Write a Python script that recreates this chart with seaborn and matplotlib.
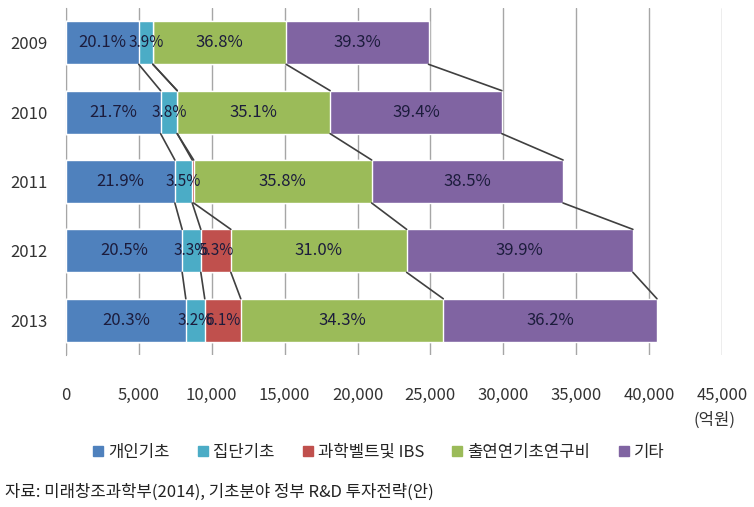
import matplotlib
matplotlib.use('Agg')
from matplotlib import pyplot as plt
from matplotlib.lines import Line2D
import seaborn as sns
import pandas as pd
import numpy as np

years = ['2009', '2010', '2011', '2012', '2013']
categories = ['개인기초', '집단기초', '과학벨트및 IBS', '출연연기초연구비', '기타']
colors = ['#4F81BD', '#4BACC6', '#C0504D', '#9BBB59', '#8064A2']

# amounts in 억원
individual = [4990, 6490, 7470, 7970, 8220]
group = [970, 1140, 1190, 1280, 1300]
sci_belt = [0, 0, 100, 2060, 2470]
institute = [9140, 10490, 12210, 12060, 13890]
other = [9770, 11780, 13130, 15520, 14660]

# labels as printed on the bars
pct_individual = ['20.1%', '21.7%', '21.9%', '20.5%', '20.3%']
pct_group = ['3.9%', '3.8%', '3.5%', '3.3%', '3.2%']
pct_sci_belt = ['', '', '', '5.3%', '6.1%']
pct_institute = ['36.8%', '35.1%', '35.8%', '31.0%', '34.3%']
pct_other = ['39.3%', '39.4%', '38.5%', '39.9%', '36.2%']

values = np.array([individual, group, sci_belt, institute, other], dtype=float)
labels = [pct_individual, pct_group, pct_sci_belt, pct_institute, pct_other]
cum = values.cumsum(axis=0)

sns.set_style('white')
plt.rcParams['font.family'] = ['Noto Sans CJK KR', 'DejaVu Sans']

fig = plt.figure(figsize=(7.54, 5.07), dpi=100)
ax = fig.add_axes([0.0875, 0.300, 0.870, 0.684])

bar_h = 0.62
# stacked: draw cumulative totals, largest first
for k in range(len(categories) - 1, -1, -1):
    df = pd.DataFrame({'year': years, 'value': cum[k]})
    sns.barplot(data=df, x='value', y='year', color=colors[k], width=bar_h,
                saturation=1, ax=ax, order=years, zorder=3)

# segment labels (small segments overlap like in the original)
for k in range(len(categories)):
    for i in range(len(years)):
        if labels[k][i]:
            start = cum[k][i] - values[k][i]
            fs = 12 if values[k][i] > 2500 else 11
            ax.text(start + values[k][i] / 2, i, labels[k][i], ha='center', va='center',
                    fontsize=fs, color='#1c1c3c', zorder=5)

# series lines between bars
for i in range(len(years) - 1):
    for k in range(len(categories)):
        ax.plot([cum[k][i], cum[k][i + 1]], [i + bar_h / 2, i + 1 - bar_h / 2],
                color='#404040', lw=1.2, zorder=4)

ax.set_xlim(0, 45000)
ax.set_ylim(4.5, -0.5)
ax.set_xticks(np.arange(0, 45001, 5000))
ax.set_xticklabels([f'{v:,}' for v in range(0, 45001, 5000)], fontsize=12, color='#333333')
ax.xaxis.grid(True, color='#a6a6a6', lw=1, zorder=0)
ax.tick_params(axis='x', direction='out', length=5, color='#a6a6a6', pad=18, width=1)
ax.tick_params(axis='y', which='major', length=0, pad=13, labelsize=12, labelcolor='#333333')
ax.set_yticks(np.arange(-0.5, 5, 1), minor=True)
ax.tick_params(axis='y', which='minor', length=5, color='#a6a6a6', width=1)
ax.set_xlabel('')
ax.set_ylabel('')
for s in ['top', 'right', 'bottom']:
    ax.spines[s].set_visible(False)
ax.spines['left'].set_color('#a6a6a6')

fig.text(0.975, 0.172, '(억원)', ha='right', va='center', fontsize=12, color='#333333')

handles = [Line2D([], [], marker='s', linestyle='', markersize=7, color=c) for c in colors]
fig.legend(handles, categories, loc='center', bbox_to_anchor=(0.5, 0.108), ncol=5,
           frameon=False, fontsize=12, handletextpad=0.1, columnspacing=1.5, handlelength=1)

fig.text(0.007, 0.03, '자료: 미래창조과학부(2014), 기초분야 정부 R&D 투자전략(안)',
         ha='left', va='center', fontsize=12, color='#222222')

fig.savefig('out.png', dpi=100)
